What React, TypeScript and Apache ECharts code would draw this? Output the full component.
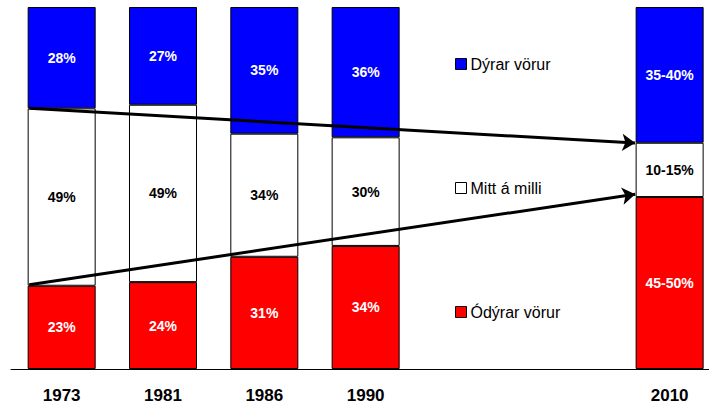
import React, { useEffect, useRef } from "react";
import * as echarts from "echarts";

const categories = ["1973", "1981", "1986", "1990", "", "", "2010"];
const cheap = [23, 24, 31, 34, null, null, 47.5];
const middle = [49, 49, 34, 30, null, null, 15];
const expensive = [28, 27, 35, 36, null, null, 37.5];
const cheapLabels = ["23%", "24%", "31%", "34%", "", "", "45-50%"];
const middleLabels = ["49%", "49%", "34%", "30%", "", "", "10-15%"];
const expensiveLabels = ["28%", "27%", "35%", "36%", "", "", "35-40%"];
const seriesNames = ["Dýrar vörur", "Mitt á milli", "Ódýrar vörur"];
// arrows: [startIndex, startValue, endIndex, endValue] in category-index units
const arrowUpper = [-0.32, 72, 5.66, 62.4];
const arrowLower = [-0.32, 23.3, 5.66, 48.3];

const FONT = "Liberation Sans, Arial, sans-serif";

export default function App() {
  const ref = useRef<HTMLDivElement>(null);
  useEffect(() => {
    document.body.style.margin = "0";
    const chart = echarts.init(ref.current!, null, { renderer: "svg" });
    const mkBar = (name: string, data: any[], labels: string[], color: string, labelColor: string) => ({
      name,
      type: "bar",
      stack: "s",
      barWidth: 68,
      data,
      itemStyle: { color, borderColor: "#000", borderWidth: 1 },
      label: {
        show: true,
        position: "inside",
        color: labelColor,
        fontWeight: "bold",
        fontSize: 14,
        fontFamily: FONT,
        formatter: (p: any) => labels[p.dataIndex],
      },
    });
    const legendBase = {
      orient: "vertical",
      left: 455,
      icon: "rect",
      itemWidth: 11,
      itemHeight: 11,
      itemGap: 4,
      selectedMode: false,
      itemStyle: { borderColor: "#000", borderWidth: 1 },
      textStyle: { fontSize: 16, fontFamily: FONT, color: "#000", padding: [0, 0, 0, -1] },
      padding: 0,
    };
    chart.setOption({
      animation: false,
      grid: { left: 11, top: 7, bottom: 43, width: 709.3, outerBoundsMode: "none", containLabel: false },
      legend: [
        { ...legendBase, top: 56, data: [seriesNames[0]] },
        { ...legendBase, top: 180, data: [seriesNames[1]] },
        { ...legendBase, top: 304, data: [seriesNames[2]] },
      ],
      xAxis: [
        {
          type: "category",
          data: categories,
          axisLine: { lineStyle: { color: "#000", width: 1 } },
          axisTick: { show: false },
          axisLabel: { color: "#000", fontWeight: "bold", fontSize: 17, fontFamily: FONT, margin: 18 },
        },
        { type: "value", min: -0.5, max: 6.5, show: false },
      ],
      yAxis: { type: "value", min: 0, max: 100, show: false },
      series: [
        mkBar(seriesNames[2], cheap, cheapLabels, "#ff0000", "#fff"),
        mkBar(seriesNames[1], middle, middleLabels, "#ffffff", "#000"),
        mkBar(seriesNames[0], expensive, expensiveLabels, "#0000ff", "#fff"),
        {
          type: "lines",
          coordinateSystem: "cartesian2d",
          xAxisIndex: 1,
          yAxisIndex: 0,
          symbol: ["none", "arrow"],
          symbolSize: 13,
          lineStyle: { color: "#000", width: 3, opacity: 1, curveness: 0 },
          z: 10,
          data: [arrowUpper, arrowLower].map((a) => ({ coords: [[a[0], a[1]], [a[2], a[3]]] })),
        },
      ],
    });
    return () => chart.dispose();
  }, []);
  return <div ref={ref} style={{ width: 709, height: 412 }} />;
}
